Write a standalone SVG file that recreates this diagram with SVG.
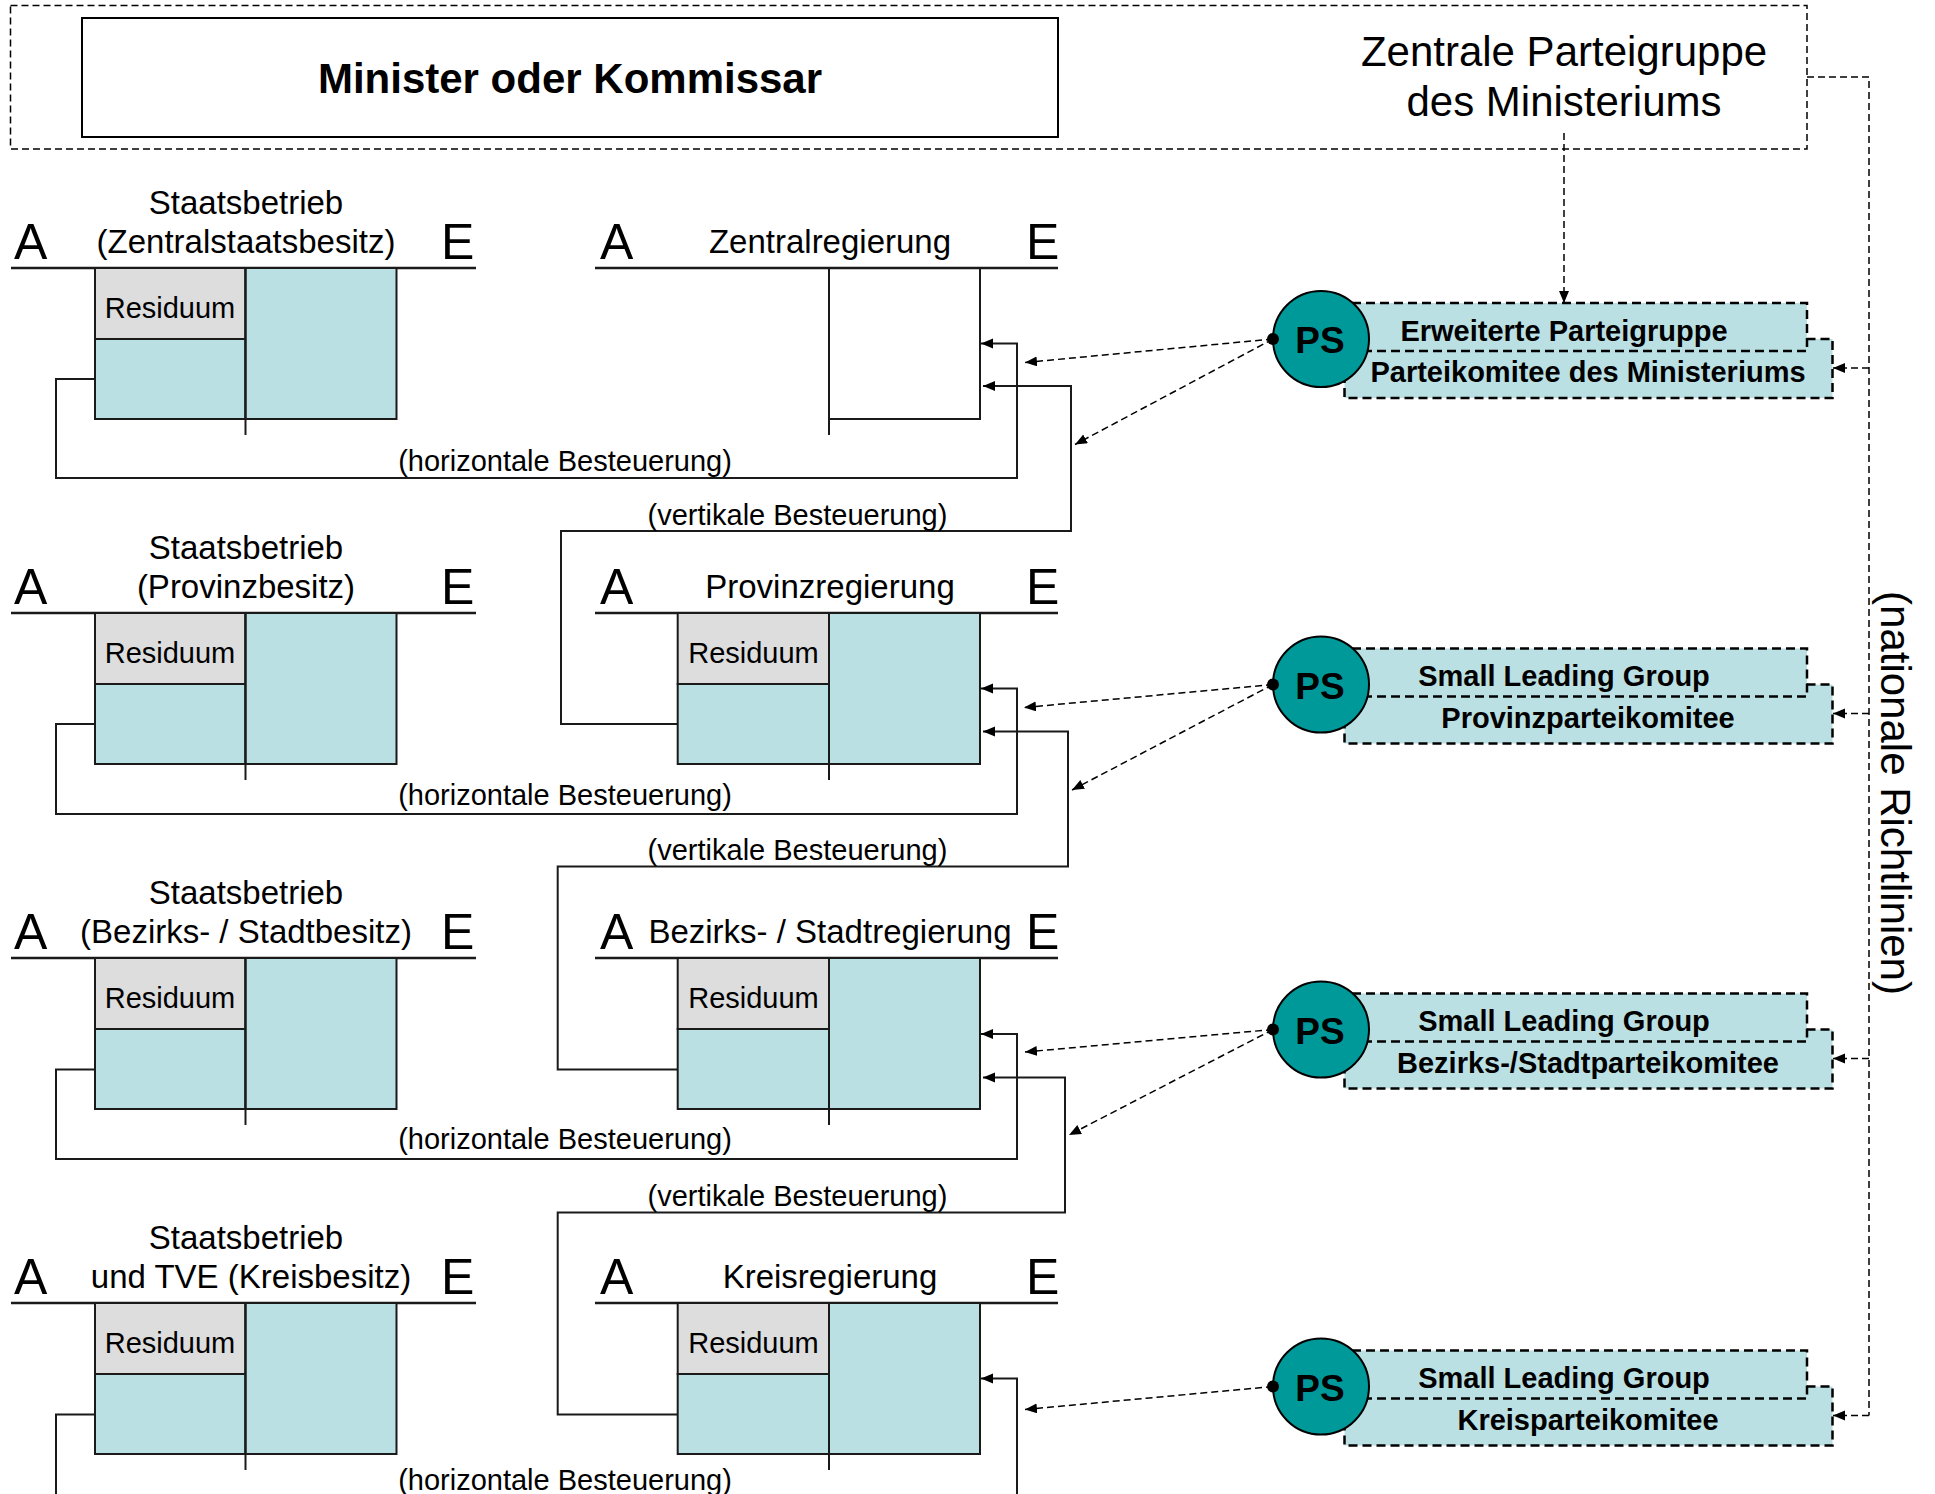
<svg xmlns="http://www.w3.org/2000/svg" width="1935" height="1494" viewBox="0 0 1935 1494">
<style>
.t{font-family:"Liberation Sans",Arial,sans-serif;fill:#000}
.h{font-size:33px;text-anchor:middle}
.ae{font-size:50px}
.r{font-size:29px;text-anchor:middle}
.lb{font-size:29px;text-anchor:middle}
.big{font-size:42px;text-anchor:middle}
.bt{font-weight:bold;font-size:29px;text-anchor:middle}
.ps{font-weight:bold;font-size:37px;text-anchor:middle}
.ln{stroke:#1a1a1a;stroke-width:2;fill:none}
.hl{stroke:#1a1a1a;stroke-width:2.5;fill:none}
.blue{fill:#BBE0E3;stroke:#1a1a1a;stroke-width:2}
.gray{fill:#DDDDDD;stroke:#1a1a1a;stroke-width:2}
.dash{stroke:#000;stroke-width:1.5;fill:none;stroke-dasharray:7 4}
.cbox{fill:#BBE0E3;stroke:#000;stroke-width:2.5;stroke-dasharray:9 5}
.circ{fill:#009999;stroke:#000;stroke-width:2}
</style>
<defs>
<marker id="arr" markerUnits="userSpaceOnUse" markerWidth="13" markerHeight="11" refX="12" refY="5" orient="auto">
<path d="M0,0 L12,5 L0,10 z" fill="#000"/>
</marker>
</defs>

<g id="top-frame">
<rect x="10.5" y="5.5" width="1796.5" height="143.5" class="dash"/>
</g>
<g id="minister">
<rect x="82" y="18" width="976" height="119" fill="#fff" stroke="#000" stroke-width="2"/>
<text class="t" x="570" y="93" font-size="42" font-weight="bold" text-anchor="middle">Minister oder Kommissar</text>
</g>
<g id="zentrale-parteigruppe">
<text class="t big" x="1564" y="66">Zentrale Parteigruppe</text>
<text class="t big" x="1564" y="116">des Ministeriums</text>
</g>

<!-- Left column: enterprises -->
<g id="betrieb-zentral">
<line x1="11" y1="268" x2="476" y2="268" class="hl"/>
<rect x="95" y="268" width="150.5" height="71" class="gray"/>
<rect x="95" y="339" width="150.5" height="80" class="blue"/>
<rect x="245.5" y="268" width="151" height="151" class="blue"/>
<line x1="245.5" y1="268" x2="245.5" y2="435" class="ln"/>
<text class="t r" x="170" y="318">Residuum</text>
<text class="t h" x="246" y="213.5">Staatsbetrieb</text>
<text class="t h" x="246" y="253">(Zentralstaatsbesitz)</text>
<text class="t ae" x="14" y="259">A</text>
<text class="t ae" x="441" y="259">E</text>
</g>
<g id="betrieb-provinz">
<line x1="11" y1="613" x2="476" y2="613" class="hl"/>
<rect x="95" y="613" width="150.5" height="71" class="gray"/>
<rect x="95" y="684" width="150.5" height="80" class="blue"/>
<rect x="245.5" y="613" width="151" height="151" class="blue"/>
<line x1="245.5" y1="613" x2="245.5" y2="780" class="ln"/>
<text class="t r" x="170" y="663">Residuum</text>
<text class="t h" x="246" y="558.5">Staatsbetrieb</text>
<text class="t h" x="246" y="598">(Provinzbesitz)</text>
<text class="t ae" x="14" y="604">A</text>
<text class="t ae" x="441" y="604">E</text>
</g>
<g id="betrieb-bezirk">
<line x1="11" y1="958" x2="476" y2="958" class="hl"/>
<rect x="95" y="958" width="150.5" height="71" class="gray"/>
<rect x="95" y="1029" width="150.5" height="80" class="blue"/>
<rect x="245.5" y="958" width="151" height="151" class="blue"/>
<line x1="245.5" y1="958" x2="245.5" y2="1125" class="ln"/>
<text class="t r" x="170" y="1008">Residuum</text>
<text class="t h" x="246" y="903.5">Staatsbetrieb</text>
<text class="t h" x="246" y="943">(Bezirks- / Stadtbesitz)</text>
<text class="t ae" x="14" y="949">A</text>
<text class="t ae" x="441" y="949">E</text>
</g>
<g id="betrieb-kreis">
<line x1="11" y1="1303" x2="476" y2="1303" class="hl"/>
<rect x="95" y="1303" width="150.5" height="71" class="gray"/>
<rect x="95" y="1374" width="150.5" height="80" class="blue"/>
<rect x="245.5" y="1303" width="151" height="151" class="blue"/>
<line x1="245.5" y1="1303" x2="245.5" y2="1470" class="ln"/>
<text class="t r" x="170" y="1353">Residuum</text>
<text class="t h" x="246" y="1248.5">Staatsbetrieb</text>
<text class="t h" x="251" y="1288">und TVE (Kreisbesitz)</text>
<text class="t ae" x="14" y="1294">A</text>
<text class="t ae" x="441" y="1294">E</text>
</g>

<!-- Right column: governments -->
<g id="zentralregierung">
<line x1="595" y1="268" x2="1058" y2="268" class="hl"/>
<path d="M829,268 V435 M980,268 V419 H829" class="ln"/>
<text class="t h" x="830" y="253">Zentralregierung</text>
<text class="t ae" x="600" y="259">A</text>
<text class="t ae" x="1026" y="259">E</text>
</g>
<g id="provinzregierung">
<line x1="595" y1="613" x2="1058" y2="613" class="hl"/>
<rect x="677.7" y="613" width="151.3" height="71" class="gray"/>
<rect x="677.7" y="684" width="151.3" height="80" class="blue"/>
<rect x="829" y="613" width="151" height="151" class="blue"/>
<line x1="829" y1="613" x2="829" y2="780" class="ln"/>
<text class="t r" x="753.5" y="663">Residuum</text>
<text class="t h" x="830" y="598">Provinzregierung</text>
<text class="t ae" x="600" y="604">A</text>
<text class="t ae" x="1026" y="604">E</text>
</g>
<g id="bezirksregierung">
<line x1="595" y1="958" x2="1058" y2="958" class="hl"/>
<rect x="677.7" y="958" width="151.3" height="71" class="gray"/>
<rect x="677.7" y="1029" width="151.3" height="80" class="blue"/>
<rect x="829" y="958" width="151" height="151" class="blue"/>
<line x1="829" y1="958" x2="829" y2="1125" class="ln"/>
<text class="t r" x="753.5" y="1008">Residuum</text>
<text class="t h" x="830" y="943">Bezirks- / Stadtregierung</text>
<text class="t ae" x="600" y="949">A</text>
<text class="t ae" x="1026" y="949">E</text>
</g>
<g id="kreisregierung">
<line x1="595" y1="1303" x2="1058" y2="1303" class="hl"/>
<rect x="677.7" y="1303" width="151.3" height="71" class="gray"/>
<rect x="677.7" y="1374" width="151.3" height="80" class="blue"/>
<rect x="829" y="1303" width="151" height="151" class="blue"/>
<line x1="829" y1="1303" x2="829" y2="1470" class="ln"/>
<text class="t r" x="753.5" y="1353">Residuum</text>
<text class="t h" x="830" y="1288">Kreisregierung</text>
<text class="t ae" x="600" y="1294">A</text>
<text class="t ae" x="1026" y="1294">E</text>
</g>

<!-- Party committees -->
<g id="ps-ministerium">
<rect x="1344.5" y="339" width="488" height="59" class="cbox"/>
<rect x="1352" y="303" width="455" height="48" class="cbox"/>
<circle cx="1321" cy="339" r="48" class="circ"/>
<circle cx="1273" cy="339" r="6" fill="#000"/>
<text class="t ps" x="1320" y="353">PS</text>
<text class="t bt" x="1564" y="341">Erweiterte Parteigruppe</text>
<text class="t bt" x="1588" y="382">Parteikomitee des Ministeriums</text>
</g>
<g id="ps-provinz">
<rect x="1344.5" y="684.5" width="488" height="59" class="cbox"/>
<rect x="1352" y="648.5" width="455" height="48" class="cbox"/>
<circle cx="1321" cy="684.5" r="48" class="circ"/>
<circle cx="1273" cy="684.5" r="6" fill="#000"/>
<text class="t ps" x="1320" y="698.5">PS</text>
<text class="t bt" x="1564" y="685.5">Small Leading Group</text>
<text class="t bt" x="1588" y="727.5">Provinzparteikomitee</text>
</g>
<g id="ps-bezirk">
<rect x="1344.5" y="1029.5" width="488" height="59" class="cbox"/>
<rect x="1352" y="993.5" width="455" height="48" class="cbox"/>
<circle cx="1321" cy="1029.5" r="48" class="circ"/>
<circle cx="1273" cy="1029.5" r="6" fill="#000"/>
<text class="t ps" x="1320" y="1043.5">PS</text>
<text class="t bt" x="1564" y="1030.5">Small Leading Group</text>
<text class="t bt" x="1588" y="1072.5">Bezirks-/Stadtparteikomitee</text>
</g>
<g id="ps-kreis">
<rect x="1344.5" y="1386.5" width="488" height="59" class="cbox"/>
<rect x="1352" y="1350.5" width="455" height="48" class="cbox"/>
<circle cx="1321" cy="1386.5" r="48" class="circ"/>
<circle cx="1273" cy="1386.5" r="6" fill="#000"/>
<text class="t ps" x="1320" y="1400.5">PS</text>
<text class="t bt" x="1564" y="1387.5">Small Leading Group</text>
<text class="t bt" x="1588" y="1429.5">Kreisparteikomitee</text>
</g>

<g id="richtlinien-label">
<text class="t big" x="0" y="0" transform="translate(1881,793) rotate(90)">(nationale Richtlinien)</text>
</g>

<g id="connectors">
<!-- horizontal taxation -->
<path d="M95,379 H56 V478 H1017 V343.5 H981" class="ln" marker-end="url(#arr)"/>
<path d="M95,724 H56 V814 H1017 V688.5 H981" class="ln" marker-end="url(#arr)"/>
<path d="M95,1069.5 H56 V1159 H1017 V1034 H981" class="ln" marker-end="url(#arr)"/>
<path d="M95,1414.5 H56 V1494" class="ln"/>
<path d="M1017,1494 V1378.5 H981" class="ln" marker-end="url(#arr)"/>
<!-- vertical taxation -->
<path d="M677.7,724 H561 V531 H1071 V386 H983" class="ln" marker-end="url(#arr)"/>
<path d="M677.7,1069.5 H557.7 V866.5 H1068 V731.5 H983" class="ln" marker-end="url(#arr)"/>
<path d="M677.7,1414.5 H557.7 V1212.5 H1065 V1077.5 H983" class="ln" marker-end="url(#arr)"/>
<text class="t lb" x="565" y="471">(horizontale Besteuerung)</text>
<text class="t lb" x="565" y="805">(horizontale Besteuerung)</text>
<text class="t lb" x="565" y="1149">(horizontale Besteuerung)</text>
<text class="t lb" x="565" y="1490">(horizontale Besteuerung)</text>
<text class="t lb" x="797.5" y="525">(vertikale Besteuerung)</text>
<text class="t lb" x="797.5" y="860">(vertikale Besteuerung)</text>
<text class="t lb" x="797.5" y="1205.5">(vertikale Besteuerung)</text>
<!-- party influence -->
<path d="M1273,339 L1025,362.5" class="dash" marker-end="url(#arr)"/>
<path d="M1273,339 L1075,444.5" class="dash" marker-end="url(#arr)"/>
<path d="M1273,684.5 L1024,707.5" class="dash" marker-end="url(#arr)"/>
<path d="M1273,684.5 L1072,790" class="dash" marker-end="url(#arr)"/>
<path d="M1273,1029.5 L1025,1052" class="dash" marker-end="url(#arr)"/>
<path d="M1273,1029.5 L1069,1135" class="dash" marker-end="url(#arr)"/>
<path d="M1273,1386.5 L1025,1409.5" class="dash" marker-end="url(#arr)"/>
<!-- central party group -->
<path d="M1564,133 V303" class="dash" marker-end="url(#arr)"/>
<!-- national guidelines -->
<path d="M1807,77 H1869 V1415.5" class="dash"/>
<path d="M1869,368 H1833" class="dash" marker-end="url(#arr)"/>
<path d="M1869,713.5 H1833" class="dash" marker-end="url(#arr)"/>
<path d="M1869,1058.5 H1833" class="dash" marker-end="url(#arr)"/>
<path d="M1869,1415.5 H1833" class="dash" marker-end="url(#arr)"/>
</g>
</svg>
